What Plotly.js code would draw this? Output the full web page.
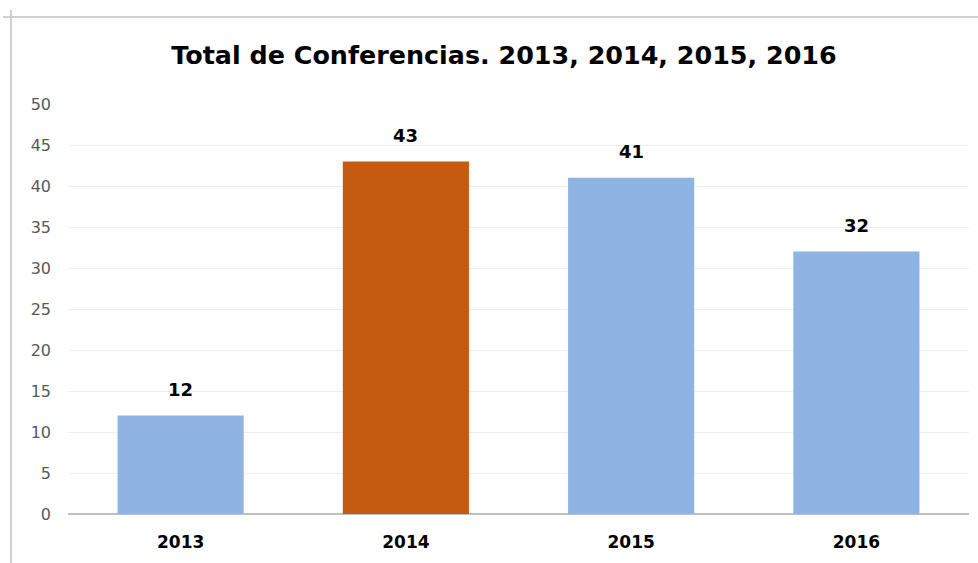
<!DOCTYPE html>
<html>
<head>
<meta charset="utf-8">
<script src="https://cdn.plot.ly/plotly-3.0.1.min.js"></script>
<style>html,body{margin:0;padding:0;background:#fff;}#chart{width:978px;height:563px;}</style>
</head>
<body>
<div id="chart"></div>
<script>
const categories = ["2013", "2014", "2015", "2016"];
const conferencias = [12, 43, 41, 32];
const barColors = ["#8DB4E2", "#C55A11", "#8DB4E2", "#8DB4E2"];
const yTicks = [0, 5, 10, 15, 20, 25, 30, 35, 40, 45, 50];
const titleText = "Total de Conferencias. 2013, 2014, 2015, 2016";

const trace = {
  type: "bar",
  x: categories,
  y: conferencias,
  marker: {color: barColors},
  hoverinfo: "x+y"
};

const annotations = categories.map((c, i) => ({
  x: i, y: conferencias[i], xref: "x", yref: "y",
  text: String(conferencias[i]), showarrow: false,
  yshift: 26, yanchor: "middle",
  font: {family: "DejaVu Sans", size: 18, color: "#000", weight: "bold"}
}));

const layout = {
  width: 978, height: 563,
  margin: {l: 68, r: 9, t: 104, b: 49},
  paper_bgcolor: "#ffffff", plot_bgcolor: "#ffffff",
  showlegend: false,
  bargap: 0.44,
  title: {
    text: titleText,
    font: {family: "DejaVu Sans", size: 25.4, color: "#000", weight: "bold"},
    x: 504 / 978, xref: "container", xanchor: "center",
    y: 1 - 55.5 / 563, yref: "container", yanchor: "middle"
  },
  xaxis: {
    type: "category",
    categoryorder: "array", categoryarray: categories,
    range: [-0.5, categories.length - 0.5],
    showgrid: false, zeroline: false, showline: false, ticks: "",
    ticklabelstandoff: 16,
    tickfont: {family: "DejaVu Sans", size: 17, color: "#000", weight: "bold"}
  },
  yaxis: {
    range: [0, 50],
    tickvals: yTicks,
    showgrid: true, gridcolor: "#efefef", gridwidth: 1,
    zeroline: true, zerolinecolor: "#bfbfbf", zerolinewidth: 2,
    showline: false, ticks: "",
    ticklabelstandoff: 16,
    tickfont: {family: "DejaVu Sans", size: 16, color: "#595959"}
  },
  annotations: annotations,
  shapes: [
    {type: "line", xref: "paper", yref: "paper", x0: -0.0721, x1: 1.02, y0: 1.2122, y1: 1.2122,
     line: {color: "#d0d0d0", width: 2}},
    {type: "line", xref: "paper", yref: "paper", x0: -0.0633, x1: -0.0633, y0: 1.229, y1: -0.13,
     line: {color: "#d0d0d0", width: 2}}
  ]
};

Plotly.newPlot("chart", [trace], layout, {displayModeBar: false, staticPlot: true});
</script>
</body>
</html>
